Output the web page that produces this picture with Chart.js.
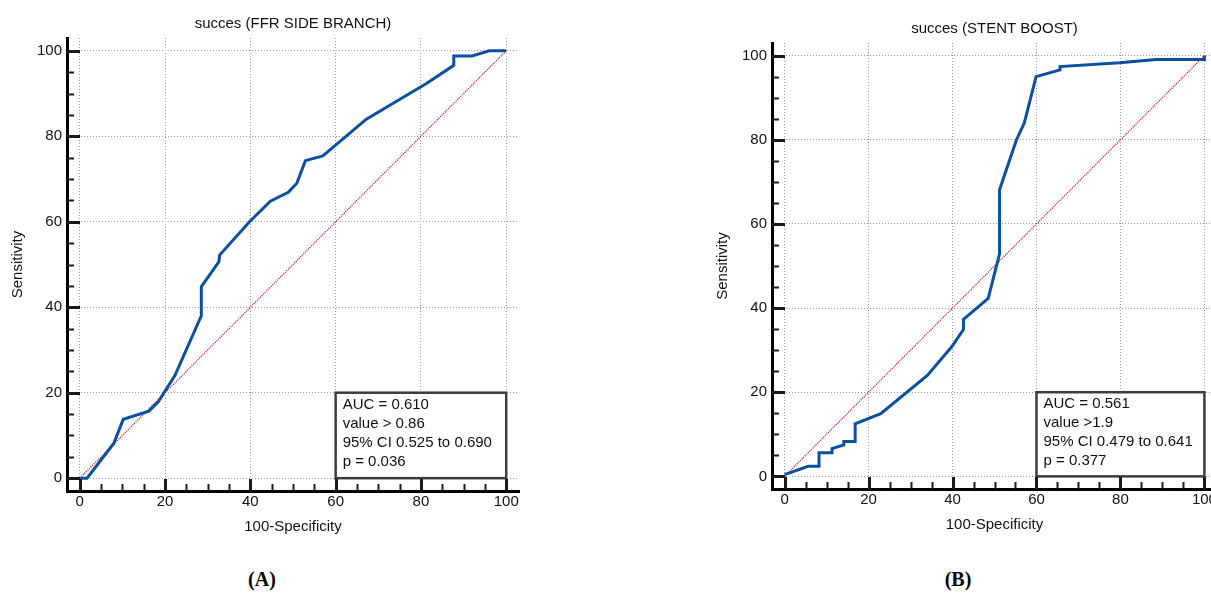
<!DOCTYPE html>
<html>
<head>
<meta charset="utf-8">
<script src="https://cdn.jsdelivr.net/npm/chart.js@4.4.1/dist/chart.umd.min.js"></script>
<style>
  html, body { margin: 0; padding: 0; background: #fff; }
  body { position: relative; width: 1211px; height: 597px; overflow: hidden; }
  .panel { position: absolute; top: 0; }
  #panelA { left: 0; width: 540px; height: 545px; }
  #panelB { left: 705px; width: 520px; height: 543px; }
  .tag {
    position: absolute; top: 568px; width: 60px; text-align: center;
    font: bold 20px 'Liberation Serif', 'Times New Roman', serif; color: #000;
  }
</style>
</head>
<body>
<div class="panel" id="panelA"><canvas id="rocA" width="540" height="545"></canvas></div>
<div class="panel" id="panelB"><canvas id="rocB" width="520" height="543"></canvas></div>
<div class="tag" style="left:232px">(A)</div>
<div class="tag" style="left:928px">(B)</div>
<script>
(function () {
    'use strict';

    // ROC points, 100-specificity vs sensitivity
    const fprA = [0, 1.7, 8, 10.2, 16.2, 18.4, 22.3, 28.5, 28.5, 32.6, 32.8, 39.8, 44.7, 48.9, 50.9, 52.9, 57, 67.2, 81.2, 87.7, 87.7, 92, 96, 100];
    const sensA = [0, 0, 8.2, 13.8, 15.7, 17.9, 24, 38, 44.8, 50.6, 52.2, 60, 64.8, 66.9, 69, 74.3, 75.4, 84, 92.3, 96.6, 98.8, 98.8, 100, 100];

    const fprB = [0, 5.6, 8.2, 8.2, 11.3, 11.3, 14.1, 14.1, 16.8, 16.8, 22.9, 34, 39.8, 42.6, 42.6, 48.5, 51.2, 51.2, 55.2, 57.1, 59.9, 65.6, 65.6, 79.8, 88.5, 100, 100];
    const sensB = [0.4, 2.4, 2.4, 5.6, 5.6, 6.6, 7.5, 8.3, 8.3, 12.5, 14.9, 24, 30.8, 34.9, 37.3, 42.3, 52.9, 68.1, 79.9, 84, 95, 96.6, 97.4, 98.3, 99.1, 99.1, 100];

    // reference diagonal
    const chanceX = [0, 100];
    const chanceY = [0, 100];

    const axisTicks = [0, 5, 10, 15, 20, 25, 30, 35, 40, 45, 50, 55, 60, 65, 70, 75, 80, 85, 90, 95, 100];

    const statsA = ['AUC = 0.610', 'value > 0.86', '95% CI 0.525 to 0.690', 'p = 0.036'];
    const statsB = ['AUC = 0.561', 'value >1.9', '95% CI 0.479 to 0.641', 'p = 0.377'];

    const FONT = "'Liberation Sans', Arial, sans-serif";
    Chart.defaults.font.family = FONT;
    Chart.defaults.font.size = 15;
    Chart.defaults.color = '#111';

    const toPoints = (xs, ys) => xs.map((x, i) => ({ x: x, y: ys[i] }));

    // short tick marks pointing into the plot, longer on labelled ticks
    const innerTicks = {
        id: 'innerTicks',
        afterDraw(chart) {
            const ctx = chart.ctx;
            const area = chart.chartArea;
            const xs = chart.scales.x, ys = chart.scales.y;
            ctx.save();
            ctx.strokeStyle = '#1a1a1a';
            xs.ticks.forEach(t => {
                const major = t.value % 20 === 0;
                const px = Math.round(xs.getPixelForValue(t.value)) + 0.5;
                ctx.lineWidth = major ? 3 : 2;
                ctx.beginPath();
                ctx.moveTo(px, area.bottom);
                ctx.lineTo(px, area.bottom - (major ? 12 : 7));
                ctx.stroke();
            });
            ys.ticks.forEach(t => {
                const major = t.value % 20 === 0;
                const py = Math.round(ys.getPixelForValue(t.value)) + 0.5;
                ctx.lineWidth = major ? 3 : 2;
                ctx.beginPath();
                ctx.moveTo(area.left, py);
                ctx.lineTo(area.left + (major ? 13 : 7), py);
                ctx.stroke();
            });
            ctx.restore();
        }
    };

    // framed legend with AUC statistics
    const statBox = {
        id: 'statBox',
        beforeDatasetsDraw(chart, args, opts) {
            if (!opts.lines) return;
            const ctx = chart.ctx;
            const xs = chart.scales.x, ys = chart.scales.y;
            const l = xs.getPixelForValue(opts.xMin), r = xs.getPixelForValue(opts.xMax);
            const t = ys.getPixelForValue(opts.yMax), b = ys.getPixelForValue(opts.yMin);
            ctx.save();
            ctx.fillStyle = '#fff';
            ctx.fillRect(l, t, r - l, b - t);
            ctx.strokeStyle = '#3c3c3c';
            ctx.lineWidth = 2.5;
            ctx.strokeRect(l, t, r - l, b - t);
            ctx.fillStyle = '#111';
            ctx.font = '15px ' + FONT;
            ctx.textBaseline = 'middle';
            opts.lines.forEach((line, i) => {
                ctx.fillText(line, l + 7, t + 12 + i * 19);
            });
            ctx.restore();
        }
    };

    function axis(titleText, titlePadding, labelPadding, fit) {
        return {
            type: 'linear',
            min: -3,
            max: 103,
            afterBuildTicks: s => { s.ticks = axisTicks.map(v => ({ value: v })); },
            afterFit: fit,
            // only the labelled ticks get a dotted grid line
            grid: {
                color: c => (c.tick && c.tick.value % 20 === 0) ? '#9a9a9a' : 'rgba(0,0,0,0)',
                lineWidth: 1,
                drawTicks: false
            },
            border: { display: true, color: '#000', width: 3, dash: [1, 2] },
            ticks: {
                padding: labelPadding,
                autoSkip: false,
                maxRotation: 0,
                color: '#111',
                callback: v => (v % 20 === 0 ? String(v) : '')
            },
            title: { display: true, text: titleText, color: '#111', padding: titlePadding }
        };
    }

    function rocChart(canvasId, title, fpr, sens, stats, layout) {
        const el = document.getElementById(canvasId);
        return new Chart(el.getContext('2d'), {
            type: 'line',
            data: {
                datasets: [
                    {
                        label: 'ROC',
                        data: toPoints(fpr, sens),
                        borderColor: '#0b4f9f',
                        borderWidth: 3,
                        pointRadius: 0,
                        tension: 0,
                        fill: false
                    },
                    {
                        label: 'Reference',
                        data: toPoints(chanceX, chanceY),
                        borderColor: '#c80000',
                        borderWidth: 1.3,
                        borderDash: [1, 1.2],
                        pointRadius: 0,
                        fill: false
                    }
                ]
            },
            options: {
                responsive: false,
                animation: false,
                events: [],
                layout: { padding: { left: 0, top: 0, right: layout.right, bottom: 0 } },
                scales: {
                    x: axis('100-Specificity', { top: 0, bottom: 9 }, 2, s => { s.height = layout.xHeight; }),
                    y: axis('Sensitivity', { top: 9, bottom: 0 }, 5, s => { s.width = 67; })
                },
                plugins: {
                    legend: { display: false },
                    tooltip: { enabled: false },
                    title: {
                        display: true,
                        text: title,
                        fullSize: false,
                        color: '#111',
                        font: { size: 15, weight: 'normal' },
                        padding: { top: layout.titleTop, bottom: 5 }
                    },
                    statBox: { lines: stats, xMin: 60, xMax: 100, yMin: 0, yMax: 20 }
                }
            },
            plugins: [statBox, innerTicks]
        });
    }

    rocChart('rocA', 'succes (FFR SIDE BRANCH)', fprA, sensA, statsA, { titleTop: 15, xHeight: 54, right: 21 });
    rocChart('rocB', 'succes (STENT BOOST)', fprB, sensB, statsB, { titleTop: 20, xHeight: 54, right: 8 });
})();
</script>
</body>
</html>
